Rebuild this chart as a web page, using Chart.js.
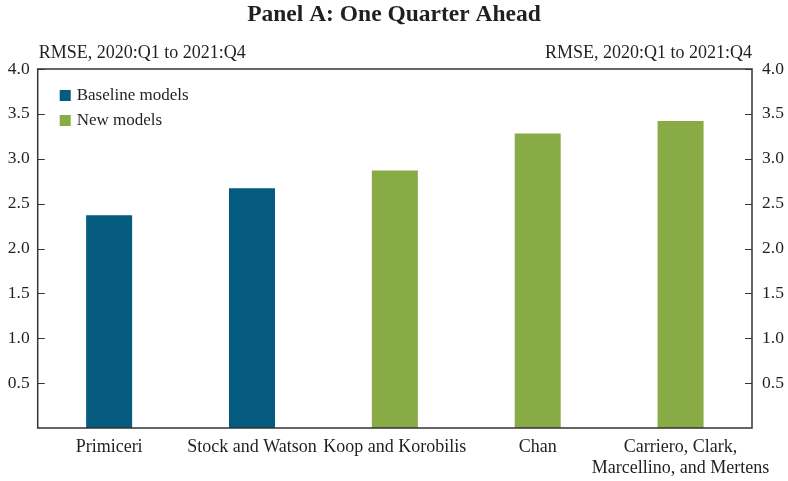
<!DOCTYPE html>
<html>
<head>
<meta charset="utf-8">
<script src="https://cdn.jsdelivr.net/npm/chart.js@4/dist/chart.umd.min.js"></script>
<style>
  html, body { margin: 0; padding: 0; background: #fff; }
  #wrap { width: 788px; height: 481px; position: relative; }
</style>
</head>
<body>
<div id="wrap"><canvas id="myGrafic"></canvas></div>
<script>
// Datos del grafico
let categories = ['Primiceri', 'Stock and Watson', 'Koop and Korobilis', 'Chan', ['Carriero, Clark,', 'Marcellino, and Mertens']];
let baseline = [2.37, 2.67, null, null, null];
let newModels = [null, null, 2.87, 3.28, 3.42];
let yTicks = [0.5, 1.0, 1.5, 2.0, 2.5, 3.0, 3.5, 4.0];
let axisTitle = 'RMSE, 2020:Q1 to 2021:Q4';

const ink = '#231f20';
const serif = '"Liberation Serif", "DejaVu Serif", serif';

// Caja, marcas interiores, titulos de eje y leyenda
const extras = {
  id: 'extras',
  afterDraw(chart) {
    const ctx = chart.ctx;
    const a = chart.chartArea;
    const y = chart.scales.y;
    ctx.save();
    ctx.strokeStyle = '#333';
    ctx.lineWidth = 1.5;
    ctx.strokeRect(a.left, a.top, a.right - a.left, a.bottom - a.top);
    ctx.lineWidth = 1.2;
    yTicks.forEach(v => {
      const py = Math.round(y.getPixelForValue(v)) + 0.5;
      ctx.beginPath();
      ctx.moveTo(a.left, py); ctx.lineTo(a.left + 7, py);
      ctx.moveTo(a.right, py); ctx.lineTo(a.right - 7, py);
      ctx.stroke();
    });
    ctx.fillStyle = ink;
    ctx.font = '18px ' + serif;
    ctx.textBaseline = 'alphabetic';
    ctx.textAlign = 'left';
    ctx.fillText(axisTitle, a.left + 1, a.top - 11);
    ctx.textAlign = 'right';
    ctx.fillText(axisTitle, a.right, a.top - 11);
    // leyenda
    ctx.font = '17px ' + serif;
    ctx.textAlign = 'left';
    ctx.textBaseline = 'middle';
    chart.data.datasets.forEach((ds, i) => {
      const cy = a.top + 26 + i * 25;
      ctx.fillStyle = ds.backgroundColor;
      ctx.fillRect(a.left + 22, cy - 5, 11, 11);
      ctx.fillStyle = ink;
      ctx.fillText(ds.label, a.left + 39, cy + 1);
    });
    ctx.restore();
  }
};

let myChart = {
  type: 'bar',
  data: {
    labels: categories,
    datasets: [
      { label: 'Baseline models', data: baseline, backgroundColor: '#045b7d' },
      { label: 'New models', data: newModels, backgroundColor: '#88ab45' }
    ]
  },
  options: {
    responsive: false,
    animation: false,
    layout: { padding: 0 },
    datasets: { bar: { barPercentage: 0.322, categoryPercentage: 1, grouped: false } },
    plugins: {
      legend: { display: false },
      tooltip: { enabled: false },
      title: {
        display: true,
        text: 'Panel A: One Quarter Ahead',
        color: ink,
        font: { family: serif, size: 23.5, weight: 'bold', lineHeight: 1.2 },
        padding: { top: 1, bottom: 39.8 }
      }
    },
    scales: {
      x: {
        grid: { display: false, drawTicks: false },
        border: { display: false },
        ticks: { color: ink, font: { family: serif, size: 18, lineHeight: 1.15 }, padding: 9, maxRotation: 0, autoSkip: false },
        afterFit(s) { s.height = 53; }
      },
      y: {
        position: 'left',
        min: 0, max: 4,
        grid: { display: false, drawTicks: false },
        border: { display: false },
        ticks: { stepSize: 0.5, color: ink, font: { family: serif, size: 17.5 }, padding: 8,
          callback: v => v === 0 ? '' : v.toFixed(1) },
        afterFit(s) { s.width = 37.7; }
      },
      y2: {
        position: 'right',
        min: 0, max: 4,
        grid: { display: false, drawTicks: false },
        border: { display: false },
        ticks: { stepSize: 0.5, color: ink, font: { family: serif, size: 17.5 }, padding: 10,
          callback: v => v === 0 ? '' : v.toFixed(1) },
        afterFit(s) { s.width = 36; }
      }
    }
  },
  plugins: [extras]
};

var myGrafic = document.getElementById('myGrafic');
myGrafic.width = 788;
myGrafic.height = 481;
window.bars = new Chart(myGrafic, myChart);
</script>
</body>
</html>
